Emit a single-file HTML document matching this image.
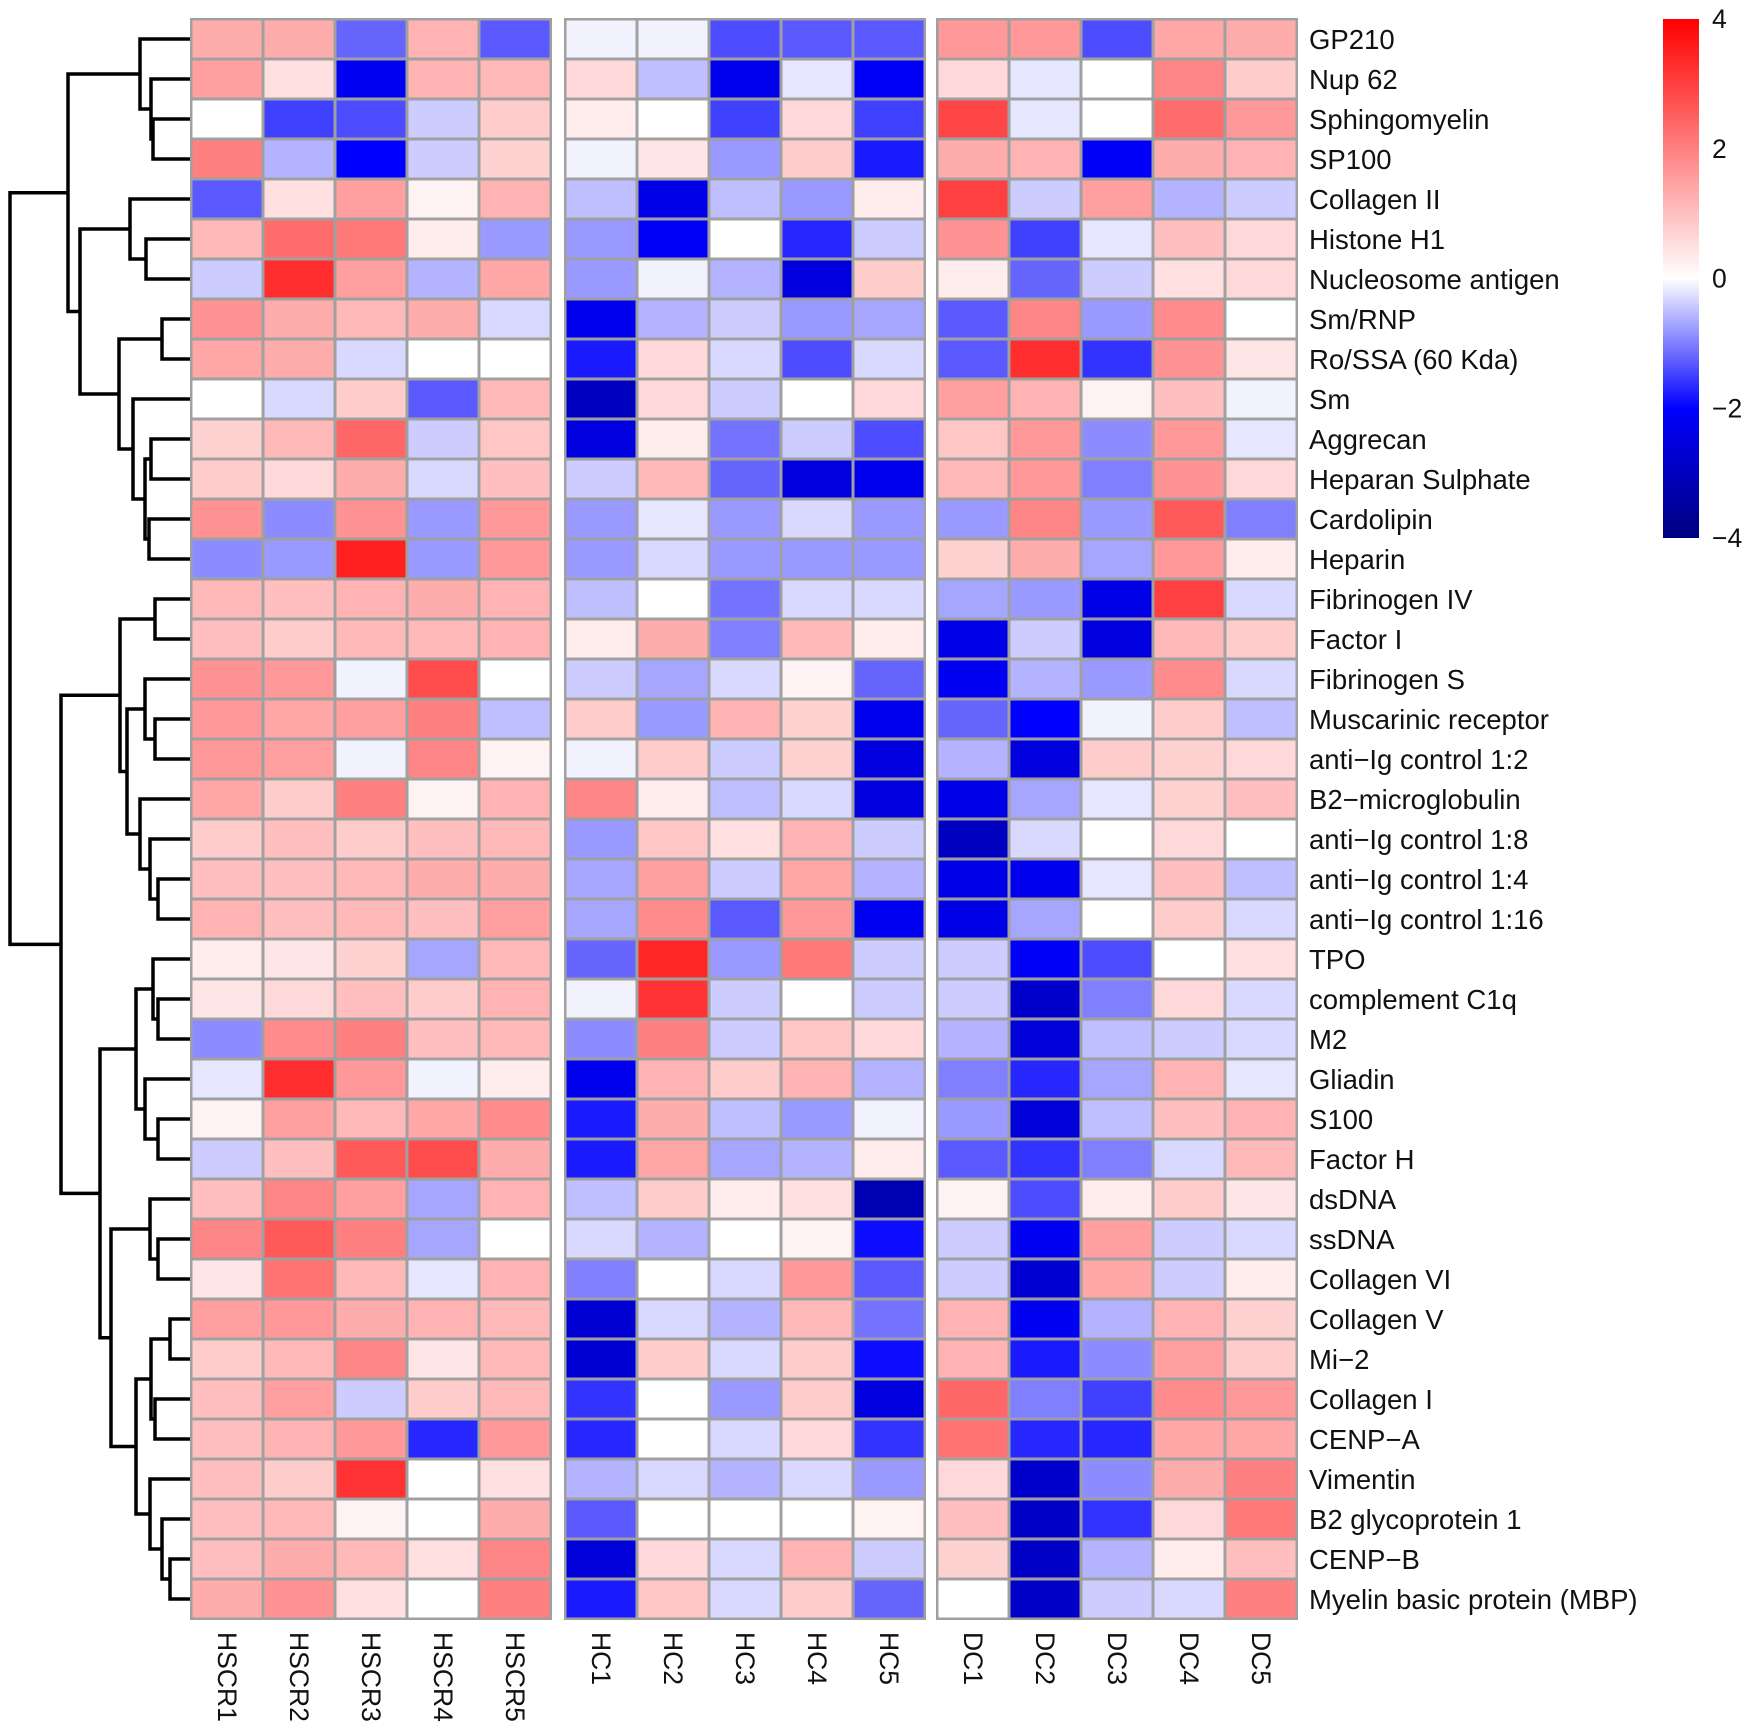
<!DOCTYPE html>
<html><head><meta charset="utf-8">
<style>
html,body{margin:0;padding:0;background:#fff;}
svg{display:block;font-family:"Liberation Sans",Arial,sans-serif;}
</style></head>
<body>
<svg id="chart" width="1750" height="1730" viewBox="0 0 1750 1730" xmlns="http://www.w3.org/2000/svg">
<defs>
<linearGradient id="cbgrad" x1="0" y1="0" x2="0" y2="1">
<stop offset="0" stop-color="#ff0000"/>
<stop offset="0.5" stop-color="#ffffff"/>
<stop offset="0.75" stop-color="#0000ff"/>
<stop offset="1" stop-color="#000080"/>
</linearGradient>
</defs>
<g id="dendro"></g>
<g id="cells"></g>
<g id="rowlabels"></g>
<g id="collabels"></g>
<g id="legend">
<rect x="1663" y="19" width="36" height="519" fill="url(#cbgrad)"/>
</g>
</svg>
<script>
const rowNames = ["GP210","Nup 62","Sphingomyelin","SP100","Collagen II","Histone H1","Nucleosome antigen","Sm/RNP","Ro/SSA (60 Kda)","Sm","Aggrecan","Heparan Sulphate","Cardolipin","Heparin","Fibrinogen IV","Factor I","Fibrinogen S","Muscarinic receptor","anti\u2212Ig control 1:2","B2\u2212microglobulin","anti\u2212Ig control 1:8","anti\u2212Ig control 1:4","anti\u2212Ig control 1:16","TPO","complement C1q","M2","Gliadin","S100","Factor H","dsDNA","ssDNA","Collagen VI","Collagen V","Mi\u22122","Collagen I","CENP\u2212A","Vimentin","B2 glycoprotein 1","CENP\u2212B","Myelin basic protein (MBP)"];
const colNames = ["HSCR1","HSCR2","HSCR3","HSCR4","HSCR5","HC1","HC2","HC3","HC4","HC5","DC1","DC2","DC3","DC4","DC5"];
const legendTicks = [4,2,0,-2,-4];
const values = [
[1.3,1.3,-1.2,1.2,-1.3, -0.1,-0.1,-1.4,-1.3,-1.3, 1.6,1.6,-1.4,1.4,1.3],
[1.5,0.5,-2.2,1.2,1.1, 0.6,-0.5,-2.3,-0.2,-2.1, 0.6,-0.2,0,1.9,0.8],
[0,-1.5,-1.4,-0.4,0.8, 0.3,0,-1.5,0.6,-1.5, 2.9,-0.2,0,2.3,1.6],
[2.0,-0.6,-2.0,-0.4,0.7, -0.1,0.4,-0.8,0.8,-1.8, 1.3,1.2,-2.1,1.3,1.2],
[-1.3,0.5,1.5,0.2,1.2, -0.5,-2.4,-0.5,-0.8,0.3, 3.0,-0.4,1.5,-0.6,-0.4],
[1.1,2.3,2.1,0.3,-0.8, -0.8,-2.1,0,-1.7,-0.4, 1.7,-1.5,-0.2,1.0,0.6],
[-0.4,3.3,1.5,-0.6,1.4, -0.8,-0.1,-0.6,-2.5,0.8, 0.3,-1.2,-0.4,0.5,0.6],
[1.7,1.3,1.1,1.3,-0.3, -2.3,-0.6,-0.4,-0.8,-0.7, -1.3,1.9,-0.8,1.8,0],
[1.4,1.3,-0.3,0,0, -1.8,0.6,-0.3,-1.4,-0.3, -1.3,3.3,-1.6,1.7,0.4],
[0,-0.3,0.8,-1.3,1.1, -3.0,0.6,-0.4,0,0.6, 1.5,1.2,0.2,1.0,-0.1],
[0.7,1.1,2.4,-0.4,0.9, -2.5,0.3,-1.1,-0.4,-1.4, 0.9,1.6,-0.9,1.6,-0.2],
[0.8,0.6,1.3,-0.3,1.0, -0.4,1.1,-1.2,-2.5,-2.3, 1.1,1.6,-1.0,1.7,0.6],
[1.7,-0.9,1.7,-0.8,1.6, -0.8,-0.2,-0.8,-0.3,-0.8, -0.8,1.9,-0.8,2.6,-1.0],
[-0.9,-0.8,3.5,-0.8,1.6, -0.8,-0.3,-0.8,-0.8,-0.8, 0.7,1.3,-0.7,1.6,0.3],
[1.1,1.0,1.2,1.3,1.2, -0.5,0,-1.1,-0.3,-0.3, -0.7,-0.8,-2.4,3.0,-0.3],
[1.0,0.8,1.1,1.1,1.2, 0.3,1.3,-1.0,1.1,0.3, -2.4,-0.4,-2.5,1.1,0.8],
[1.7,1.6,-0.1,2.8,0, -0.4,-0.7,-0.3,0.2,-1.2, -2.2,-0.6,-0.8,1.8,-0.3],
[1.6,1.4,1.5,2.0,-0.5, 0.8,-0.8,1.2,0.7,-2.3, -1.2,-2.0,-0.1,0.8,-0.5],
[1.6,1.5,-0.1,1.9,0.2, -0.1,0.8,-0.4,0.7,-2.5, -0.6,-2.5,0.8,0.7,0.6],
[1.4,0.8,2.0,0.2,1.2, 1.9,0.3,-0.5,-0.3,-2.5, -2.4,-0.7,-0.2,0.7,1.0],
[0.8,1.0,0.8,1.0,1.1, -0.8,0.9,0.5,1.2,-0.4, -3.0,-0.3,0,0.6,0],
[1.0,1.0,1.1,1.3,1.3, -0.7,1.5,-0.4,1.4,-0.6, -2.4,-2.3,-0.2,1.0,-0.5],
[1.2,1.0,1.1,1.0,1.5, -0.7,1.8,-1.3,1.6,-2.2, -2.4,-0.7,0,0.8,-0.3],
[0.3,0.4,0.7,-0.7,1.1, -1.2,3.4,-0.8,2.1,-0.4, -0.4,-2.1,-1.4,0,0.5],
[0.4,0.6,1.0,0.8,1.2, -0.1,3.2,-0.4,0,-0.4, -0.4,-2.8,-1.0,0.6,-0.3],
[-0.9,1.8,2.0,1.0,1.1, -0.9,2.0,-0.4,0.9,0.6, -0.6,-2.6,-0.5,-0.4,-0.3],
[-0.2,3.3,1.6,-0.1,0.3, -2.3,1.2,0.8,1.2,-0.6, -1.0,-1.7,-0.7,1.2,-0.2],
[0.2,1.5,1.1,1.4,1.8, -1.8,1.3,-0.5,-0.8,-0.1, -0.8,-2.6,-0.5,1.0,1.2],
[-0.4,1.0,2.6,2.8,1.3, -1.8,1.4,-0.7,-0.6,0.3, -1.3,-1.6,-1.0,-0.3,1.1],
[1.0,1.9,1.5,-0.7,1.2, -0.5,0.8,0.3,0.5,-3.2, 0.2,-1.4,0.3,0.8,0.4],
[1.9,2.6,2.0,-0.7,0, -0.3,-0.6,0,0.2,-1.9, -0.4,-2.2,1.5,-0.4,-0.3],
[0.4,2.2,1.1,-0.2,1.2, -1.0,0,-0.3,1.6,-1.3, -0.4,-2.7,1.4,-0.4,0.3],
[1.5,1.6,1.3,1.2,1.1, -2.7,-0.3,-0.6,1.1,-1.1, 1.2,-2.2,-0.6,1.2,0.7],
[0.8,1.1,1.9,0.4,1.1, -2.7,0.8,-0.3,0.8,-1.9, 1.2,-1.8,-0.9,1.5,0.8],
[1.0,1.5,-0.4,0.8,1.1, -1.6,0,-0.8,0.8,-2.5, 2.4,-1.0,-1.5,1.8,1.6],
[1.0,1.2,1.6,-1.7,1.6, -1.7,0,-0.3,0.6,-1.6, 2.2,-1.7,-1.7,1.4,1.4],
[1.0,0.8,3.2,0,0.5, -0.6,-0.3,-0.6,-0.3,-0.8, 0.6,-2.8,-0.9,1.3,2.0],
[1.0,1.1,0.2,0,1.3, -1.3,0,0,0,0.2, 1.0,-2.9,-1.6,0.6,2.1],
[1.0,1.3,1.1,0.5,1.9, -2.6,0.6,-0.3,1.2,-0.4, 0.7,-2.9,-0.6,0.3,1.0],
[1.3,1.7,0.5,0,2.0, -1.8,0.9,-0.3,0.8,-1.2, 0,-2.9,-0.4,-0.3,2.0]
];
// dendrogram merges: [childA, childB, height]; leaves are row indices, nodes are "n<k>"
const merges = [
[2,3,153],[1,"n0",151],[0,"n1",140],
[5,6,146],[4,"n3",130],[7,8,162],[10,11,151],[12,13,149],["n6","n7",145],[9,"n8",133],["n5","n9",119],["n4","n10",80],["n2","n11",68],
[14,15,155],[17,18,155],[16,"n14",145],[21,22,158],[20,"n16",150],[19,"n17",140],["n15","n18",127],["n13","n19",120],
[24,25,158],[23,"n21",153],[27,28,158],[26,"n23",145],["n22","n24",136],
[30,31,158],[29,"n26",150],[32,33,170],[34,35,155],["n28","n29",151],[38,39,170],[37,"n31",162],[36,"n32",150],["n30","n33",136],["n27","n34",111],["n25","n35",100],
["n20","n36",61],["n12","n37",10]
];

const NS = "http://www.w3.org/2000/svg";
const top0 = 19, rowH = 40;
const blockX = [191, 565, 937];
const colW = 72;
function xCol(j){ return blockX[Math.floor(j/5)] + (j%5)*colW; }
function yRow(i){ return top0 + i*rowH; }
function mix(a,b,t){ return a.map((v,k)=>Math.round(v+(b[k]-v)*t)); }
function color(v){
  let c;
  if (v >= 0) c = mix([255,255,255],[255,0,0],Math.min(v,4)/4);
  else if (v >= -2) c = mix([255,255,255],[0,0,255],-v/2);
  else c = mix([0,0,255],[0,0,128],Math.min(-v-2,2)/2);
  return "rgb("+c.join(",")+")";
}
function mk(tag, attrs, parent){
  const e = document.createElementNS(NS, tag);
  for (const k in attrs) e.setAttribute(k, attrs[k]);
  parent.appendChild(e);
  return e;
}
const cells = document.getElementById("cells");
for (let b=0;b<3;b++){
  const r = mk("rect",{x:blockX[b]-1,y:top0-1,width:5*colW+2,height:rowNames.length*rowH+2,fill:"#a0a0a0"},cells);
  
  
}
values.forEach((row,i)=>{
  row.forEach((v,j)=>{
    const r = mk("rect",{x:xCol(j)+1.5,y:yRow(i)+1.5,width:colW-3,height:rowH-3,fill:color(v)},cells);
    
    
  });
});
const rl = document.getElementById("rowlabels");
rowNames.forEach((n,i)=>{
  const t = mk("text",{x:1309,y:yRow(i)+rowH/2+10,"font-size":27.5,fill:"#111"},rl);
  t.textContent = n;
  
  
});
const cl = document.getElementById("collabels");
colNames.forEach((n,j)=>{
  const cx = xCol(j)+colW/2;
  const t = mk("text",{x:0,y:0,"font-size":26.5,fill:"#111",transform:"translate("+(cx-9)+",1632) rotate(90)"},cl);
  t.textContent = n;
  
  
});
const lg = document.getElementById("legend");
legendTicks.forEach(v=>{
  const y = 19 + (4 - v)/8*519;
  const t = mk("text",{x:1712,y:y+9,"font-size":26.5,fill:"#111"},lg);
  t.textContent = v < 0 ? "\u2212"+(-v) : String(v);
  
  
});
// dendrogram
const dg = document.getElementById("dendro");
const leafEnd = 190;
const nodePos = {};
function pos(c){
  if (typeof c === "number") return {x:leafEnd, y:yRow(c)+rowH/2};
  return nodePos[c];
}
merges.forEach((m,k)=>{
  const a = pos(m[0]), b = pos(m[1]), x = m[2];
  const d = "M"+a.x+","+a.y+" H"+x+" V"+b.y+" H"+b.x;
  const p = mk("path",{d:d,fill:"none",stroke:"#000","stroke-width":3.5},dg);
  
  
  nodePos["n"+k] = {x:x, y:(a.y+b.y)/2};
});
</script>
</body></html>
